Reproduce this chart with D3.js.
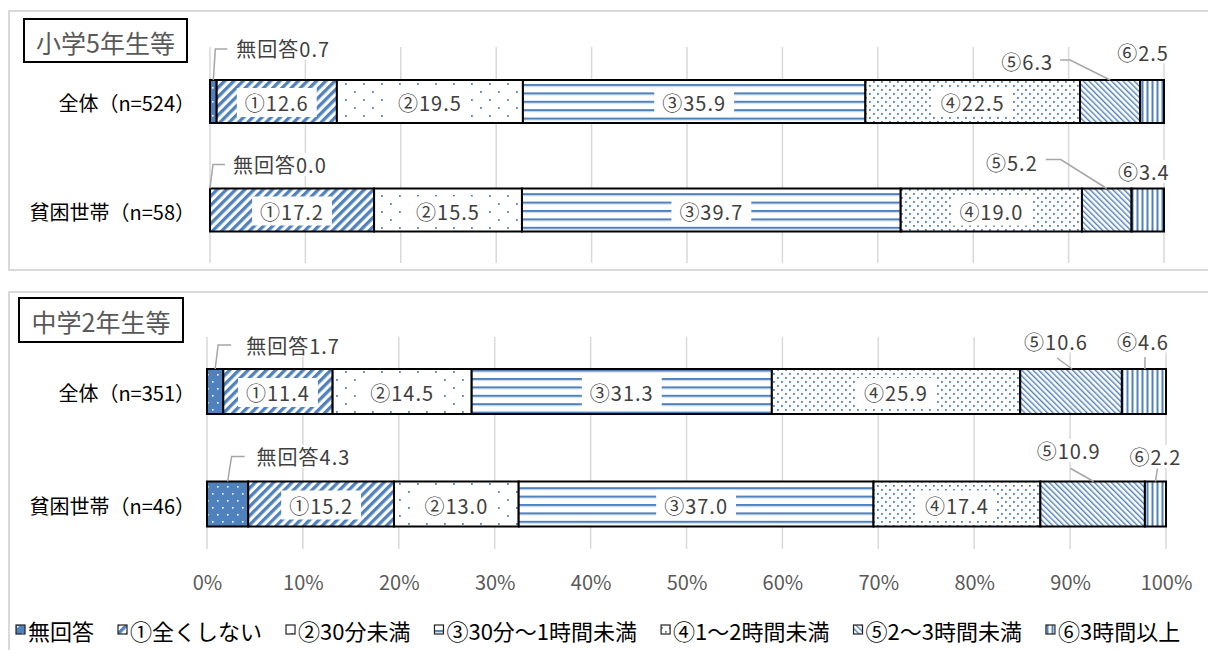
<!DOCTYPE html>
<html><head><meta charset="utf-8">
<script src="https://cdn.jsdelivr.net/npm/d3@7"></script>
<style>
html,body{margin:0;padding:0;background:#fff;}
svg{display:block;font-family:"Noto Sans CJK JP","Noto Sans",sans-serif;}
</style></head><body>
<svg id="chart" width="1208" height="650"></svg>
<script>
// Answer categories (series), in stacking order
const seriesNames = ["無回答", "①全くしない", "②30分未満", "③30分～1時間未満", "④1～2時間未満", "⑤2～3時間未満", "⑥3時間以上"];
const seriesTags = ["無回答", "①", "②", "③", "④", "⑤", "⑥"];

// Panel titles and row labels
const panelTitles = ["小学5年生等", "中学2年生等"];
const elementaryGroups = ["全体（n=524）", "貧困世帯（n=58）"];
const juniorGroups = ["全体（n=351）", "貧困世帯（n=46）"];

// Shares (%) per row
const elementaryAll = [0.7, 12.6, 19.5, 35.9, 22.5, 6.3, 2.5];
const elementaryPoor = [0.0, 17.2, 15.5, 39.7, 19.0, 5.2, 3.4];
const juniorAll = [1.7, 11.4, 14.5, 31.3, 25.9, 10.6, 4.6];
const juniorPoor = [4.3, 15.2, 13.0, 37.0, 17.4, 10.9, 2.2];

// Axis ticks
const percentTicks = [0, 10, 20, 30, 40, 50, 60, 70, 80, 90, 100];
const tickLabels = percentTicks.map(v => v + "%");

const BLUE = "#4f81bd";
const GRID = "#d9d9d9";
const LEADER = "#a6a6a6";
const LABEL = "#404040";
const fmt = d3.format(".1f");

const svg = d3.select("#chart");
const defs = svg.append("defs");

// ---- fill patterns -------------------------------------------------------
function makePattern(id, w, h, transform, draw) {
  const p = defs.append("pattern").attr("id", id)
    .attr("patternUnits", "userSpaceOnUse").attr("width", w).attr("height", h);
  if (transform) p.attr("patternTransform", transform);
  draw(p);
}
makePattern("fill0", 10, 14, null, p => {
  p.append("rect").attr("width", 10).attr("height", 14).attr("fill", BLUE);
  [[2, 3], [7, 10]].forEach(([x, y]) => p.append("rect").attr("x", x).attr("y", y).attr("width", 1.6).attr("height", 1.6).attr("fill", "#fff"));
});
makePattern("fill1", 6.5, 6.5, "rotate(45)", p => {
  p.append("rect").attr("width", 6.5).attr("height", 6.5).attr("fill", "#fff");
  p.append("rect").attr("width", 3.3).attr("height", 6.5).attr("fill", BLUE);
});
makePattern("fill2", 18, 16, null, p => {
  p.append("rect").attr("width", 18).attr("height", 16).attr("fill", "#fff");
  [[3, 3], [12, 11]].forEach(([x, y]) => p.append("rect").attr("x", x).attr("y", y).attr("width", 1.8).attr("height", 1.8).attr("fill", BLUE));
});
makePattern("fill3", 6, 8.4, null, p => {
  p.append("rect").attr("width", 6).attr("height", 8.4).attr("fill", "#fff");
  p.append("rect").attr("y", 0).attr("width", 6).attr("height", 2).attr("fill", BLUE);
  p.append("rect").attr("y", 2).attr("width", 6).attr("height", 1).attr("fill", "#c5d5ea");
});
makePattern("fill4", 8, 8, null, p => {
  p.append("rect").attr("width", 8).attr("height", 8).attr("fill", "#fff");
  [[1, 1], [5, 5]].forEach(([x, y]) => p.append("rect").attr("x", x).attr("y", y).attr("width", 1.8).attr("height", 1.8).attr("fill", BLUE));
});
makePattern("fill5", 4, 4, "rotate(-45)", p => {
  p.append("rect").attr("width", 4).attr("height", 4).attr("fill", "#fff");
  p.append("rect").attr("width", 1.4).attr("height", 4).attr("fill", BLUE);
});
makePattern("fill6", 5, 5, null, p => {
  p.append("rect").attr("width", 5).attr("height", 5).attr("fill", "#fff");
  p.append("rect").attr("x", 1.5).attr("width", 2).attr("height", 5).attr("fill", BLUE);
});

// ---- panel layout ----------------------------------------------------------
const panels = [
  {
    title: panelTitles[0], groups: elementaryGroups, rows: [elementaryAll, elementaryPoor],
    frame: { x: 9, y: 11, h: 259 }, titleBox: { x: 24, y: 19, w: 163, h: 43 },
    xRange: [210, 1164], rowCenters: [101.5, 210], barH: 43, gridY: [47, 263], axis: false,
    callouts: {
      "0-0": { t: [23, -32, "start"], leader: [[0, 0], [2, -31], [14, -31]] },
      "0-5": { t: [-57, -19, "end"], leader: [[0, 0], [-40, -20], [-50, -20]] },
      "0-6": { t: [-9, -28, "middle"] },
      "1-0": { t: [23, -24, "start"], leader: [[0, 0], [3, -24], [15, -24]] },
      "1-5": { t: [-69, -26, "end"], leader: [[0, 0], [-46, -29], [-61, -29]] },
      "1-6": { t: [-4, -17, "middle"] }
    }
  },
  {
    title: panelTitles[1], groups: juniorGroups, rows: [juniorAll, juniorPoor],
    frame: { x: 9, y: 292, h: 420 }, titleBox: { x: 19, y: 298, w: 164, h: 44 },
    xRange: [207, 1166], rowCenters: [391.5, 504], barH: 45, gridY: [337, 549], axis: true,
    callouts: {
      "0-0": { t: [31, -24, "start"], leader: [[0, 0], [3, -24], [16, -24]] },
      "0-5": { t: [-15, -28, "middle"], leader: [[1, 0], [-14, -11]] },
      "0-6": { t: [-1, -28, "middle"], leader: [[1, 0], [1, -12]] },
      "1-0": { t: [29, -25, "start"], leader: [[0, 0], [4, -25], [17, -25]] },
      "1-5": { t: [-24, -31, "middle"], leader: [[1, 0], [-22, -13]] },
      "1-6": { t: [0, -25, "middle"], leader: [[0, 0], [2, -13]] }
    }
  }
];

// white box behind a text element
function backWhite(g, textSel, padX, padY) {
  const b = textSel.node().getBBox();
  g.insert("rect", () => textSel.node())
    .attr("x", b.x - padX).attr("y", b.y - padY)
    .attr("width", b.width + 2 * padX).attr("height", b.height + 2 * padY)
    .attr("fill", "#fff");
}

const stack = d3.stack().keys(d3.range(seriesNames.length)).value((row, k) => row[k]);

panels.forEach(panel => {
  const g = svg.append("g");
  // frame
  g.append("rect").attr("x", panel.frame.x).attr("y", panel.frame.y)
    .attr("width", 1220).attr("height", panel.frame.h)
    .attr("fill", "none").attr("stroke", GRID).attr("stroke-width", 2);

  const x = d3.scaleLinear().domain([0, 100]).range(panel.xRange);
  const y = d3.scalePoint().domain(panel.groups).range(panel.rowCenters);

  // gridlines
  g.append("g").selectAll("line").data(percentTicks).join("line")
    .attr("x1", d => x(d)).attr("x2", d => x(d))
    .attr("y1", panel.gridY[0]).attr("y2", panel.gridY[1])
    .attr("stroke", GRID).attr("stroke-width", 1.5);

  // title box
  g.append("rect").attr("x", panel.titleBox.x).attr("y", panel.titleBox.y)
    .attr("width", panel.titleBox.w).attr("height", panel.titleBox.h)
    .attr("fill", "#fff").attr("stroke", "#000").attr("stroke-width", 2);
  g.append("text").attr("x", panel.titleBox.x + panel.titleBox.w / 2)
    .attr("y", panel.titleBox.y + panel.titleBox.h / 2 + 1)
    .attr("text-anchor", "middle").attr("dominant-baseline", "central")
    .attr("font-size", 25).attr("fill", "#595959").text(panel.title);

  // row labels
  g.append("g").selectAll("text").data(panel.groups).join("text")
    .attr("x", 195).attr("y", d => y(d) + 1)
    .attr("text-anchor", "end").attr("dominant-baseline", "central")
    .attr("font-size", 20).attr("fill", "#000").text(d => d);

  const layers = stack(panel.rows);
  const h = panel.barH;

  // segments
  const segs = [];
  layers.forEach((layer, k) => {
    layer.forEach((seg, r) => {
      segs.push({ k, r, x0: x(seg[0]), x1: x(seg[1]), value: panel.rows[r][k], cy: y(panel.groups[r]) });
    });
  });
  g.append("g").selectAll("rect").data(segs.filter(s => s.value > 0)).join("rect")
    .attr("x", s => s.x0).attr("y", s => s.cy - h / 2)
    .attr("width", s => s.x1 - s.x0).attr("height", h)
    .attr("fill", s => `url(#fill${s.k})`)
    .attr("stroke", "#000").attr("stroke-width", 2);

  // labels
  const lg = g.append("g");
  segs.forEach(s => {
    const text = seriesTags[s.k] + fmt(s.value);
    const cx = (s.x0 + s.x1) / 2;
    const top = s.cy - h / 2;
    const c = panel.callouts[s.r + "-" + s.k];
    if (c) {
      if (c.leader) {
        lg.append("polyline")
          .attr("points", c.leader.map(([dx, dy]) => [cx + dx, top + dy].join(",")).join(" "))
          .attr("fill", "none").attr("stroke", LEADER).attr("stroke-width", 1.5);
      }
      const t = lg.append("text").attr("x", cx + c.t[0]).attr("y", top + c.t[1])
        .attr("text-anchor", c.t[2]).attr("dominant-baseline", "central")
        .attr("font-size", 20).attr("letter-spacing", 1).attr("fill", LABEL).text(text);
      backWhite(lg, t, 1, -3);
    } else {
      const t = lg.append("text").attr("x", cx).attr("y", s.cy + 1)
        .attr("text-anchor", "middle").attr("dominant-baseline", "central")
        .attr("font-size", 20).attr("letter-spacing", 1).attr("fill", LABEL).text(text);
      backWhite(lg, t, 8, 0);
    }
  });

  // percentage axis labels
  if (panel.axis) {
    const axis = d3.axisBottom(x).tickValues(percentTicks).tickFormat((d, i) => tickLabels[i]).tickSize(0).tickPadding(0);
    const ag = g.append("g").attr("transform", "translate(0,576)").call(axis);
    ag.select(".domain").remove();
    ag.selectAll("text").attr("font-size", 20).attr("fill", "#595959")
      .attr("font-family", '"Noto Sans CJK JP", sans-serif');
  }
});

// ---- legend ----------------------------------------------------------------
const legend = svg.append("g").attr("transform", "translate(0,630)");
let lx = 16;
seriesNames.forEach((name, k) => {
  legend.append("rect").attr("x", lx).attr("y", -5).attr("width", 9).attr("height", 9)
    .attr("fill", `url(#fill${k})`).attr("stroke", "#222").attr("stroke-width", 1.2);
  const t = legend.append("text").attr("x", lx + 12).attr("y", 0)
    .attr("dominant-baseline", "central").attr("font-size", 22).attr("fill", "#000").text(name);
  lx += 12 + t.node().getComputedTextLength() + 24;
});
</script>
</body></html>
